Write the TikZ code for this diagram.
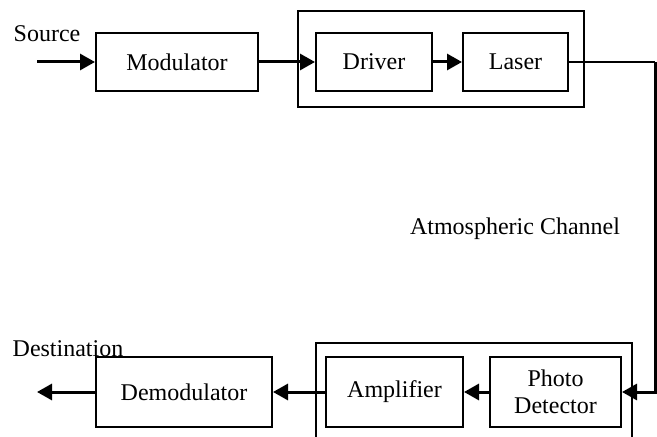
\documentclass[tikz,border=0pt]{standalone}
\usepackage{fontspec}
\setmainfont{Liberation Serif}
\usetikzlibrary{arrows.meta}

\begin{document}
\begin{tikzpicture}[x=0.5pt, y=-0.5pt, >={Triangle[length=7.5pt,width=8pt]},
    block/.style={draw, line width=1pt, minimum height=29pt, inner sep=0pt,
                  font=\fontsize{12}{13.5}\selectfont, align=center},
    lowblock/.style={block, minimum height=35pt},
    frame/.style={draw, line width=1pt},
    sig/.style={->, line width=1.5pt},
    lbl/.style={font=\fontsize{12}{14}\selectfont, inner sep=0pt}]
    \useasboundingbox (0,0) rectangle (657,437);

    % transmitter
    \node[block, minimum width=81pt] (mod) at (177,62) {Modulator};
    \node[frame, minimum width=143pt, minimum height=48pt, inner sep=0pt] (tx) at (441,59) {};
    \node[block, minimum width=58pt] (drv) at (374,62) {Driver};
    \node[block, minimum width=52.5pt] (las) at (515.5,62) {Laser};

    % receiver
    \node[lowblock, minimum width=88pt] (dem) at (184,392) {Demodulator};
    \node[lowblock, minimum width=68.5pt] (amp) at (394.5,392) {Amplifier};
    \node[lowblock, minimum width=65.5pt] (pd) at (555.5,392) {Photo\\Detector};
    \draw[line width=1pt] (316,437) |- (632,343) -- (632,437);

    % labels
    \node[lbl] (srclbl) at (47,34) {Source};
    \node[lbl] (dstlbl) at (68,349) {Destination};
    \node[lbl] (chlbl) at (515,229) {Atmospheric Channel};

    \coordinate (src) at (37,62);
    \coordinate (dst) at (37,392);
    \coordinate (ch) at (655,62);

    \draw[sig] (src) -- (mod);
    \draw[sig] (mod) -- (drv);
    \draw[sig] (drv) -- (las);
    \draw[line width=1pt] (las.east) -- (ch);
    \draw[sig] (ch) |- (pd.east);
    \draw[sig] (pd) -- (amp);
    \draw[sig] (amp) -- (dem);
    \draw[sig] (dem) -- (dst);
\end{tikzpicture}
\end{document}
